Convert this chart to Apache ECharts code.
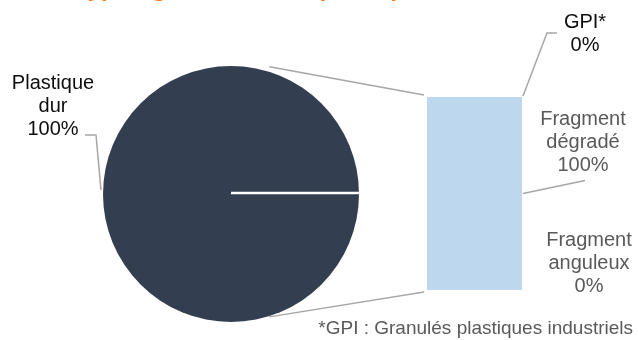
<!DOCTYPE html>
<html>
<head>
<meta charset="utf-8">
<script src="https://cdn.jsdelivr.net/npm/echarts@6/dist/echarts.min.js"></script>
<style>
  html, body { margin: 0; padding: 0; background: #fff; }
  #chart { width: 638px; height: 340px; }
</style>
</head>
<body>
<div id="chart"></div>
<script>
// pie: plastic type, bar: breakdown of the hard plastic slice
const pieNames = ['Plastique dur']
const pieValues = [100]
const barNames = ['Fragment anguleux', 'Fragment dégradé', 'GPI*'] // bottom -> top
const barValues = [0, 100, 0]
const barColors = ['#9DC3E6', '#BDD7EE', '#DEEBF7']

const titleText = 'Typologie des débris plastiques'
const footnote = '*GPI : Granulés plastiques industriels'

const FONT = '"Liberation Sans", Arial, sans-serif'
const PIE_CX = 231, PIE_CY = 194, PIE_R = 128
const BAR_LEFT = 427, BAR_TOP = 97, BAR_W = 95, BAR_H = 193
const BAR_RIGHT = BAR_LEFT + BAR_W
const LINE_GREY = '#A6A6A6'

// label centres of the bar labels
const barLabelPos = {
  'Fragment anguleux': [BAR_RIGHT + 67, BAR_TOP + BAR_H - 27],
  'Fragment dégradé': [BAR_RIGHT + 61, BAR_TOP + 45],
  'GPI*': [BAR_RIGHT + 63, BAR_TOP - 63],
}
const LABEL_LH = 23

const splitName = (s) => s.replace(' ', '\n')

const chart = echarts.init(document.getElementById('chart'), null, {renderer: 'canvas'})

const barSeries = barNames.map((name, i) => ({
  name: name,
  type: 'bar',
  stack: 'plastique',
  barWidth: '100%',
  cursor: 'default',
  itemStyle: {color: barColors[i]},
  data: [barValues[i]],
  label: {
    show: true,
    formatter: (p) => splitName(p.seriesName) + '\n' + p.value + '%',
    fontFamily: FONT,
    fontSize: 20,
    lineHeight: LABEL_LH,
    align: 'center',
    color: name === 'GPI*' ? '#0D0D0D' : '#595959'
  },
  labelLine: {show: false},
  labelLayout: () => ({
    x: barLabelPos[name][0], y: barLabelPos[name][1], align: 'center', verticalAlign: 'middle'
  })
}))

const gpi = barLabelPos['GPI*']
const deg = barLabelPos['Fragment dégradé']

const option = {
  animation: false,
  title: {
    text: titleText,
    left: 76,
    top: -23,
    padding: 0,
    textStyle: {
      fontFamily: FONT,
      fontSize: 24,
      fontStyle: 'italic',
      fontWeight: 'bold',
      color: '#F47B20'
    }
  },
  grid: {left: BAR_LEFT, top: BAR_TOP, width: BAR_W, height: BAR_H},
  xAxis: {type: 'category', data: ['Plastique dur'], show: false},
  yAxis: {type: 'value', min: 0, max: 100, show: false},
  series: [
    {
      name: 'Type',
      type: 'pie',
      center: [PIE_CX, PIE_CY],
      radius: PIE_R,
      startAngle: 0,
      cursor: 'default',
      emphasis: {disabled: true},
      itemStyle: {color: '#333F50'},
      data: pieNames.map((n, i) => ({name: n, value: pieValues[i]})),
      label: {
        show: true,
        position: 'outside',
        overflow: 'none',
        formatter: (p) => splitName(p.name) + '\n' + p.value + '%',
        fontFamily: FONT,
        fontSize: 20,
        lineHeight: LABEL_LH,
        align: 'center',
        color: '#0D0D0D'
      },
      labelLine: {show: true, smooth: false, lineStyle: {color: LINE_GREY, width: 1.5}},
      labelLayout: (params) => {
        const r = params.rect
        return {
          x: 53, y: 106, align: 'center', verticalAlign: 'middle', width: 120,
          labelLinePoints: [[r.x - 2, r.y + r.height / 2 - 4], [96, 135], [85, 135]]
        }
      }
    },
    ...barSeries
  ],
  graphic: [
    // white separator inside the pie
    {
      type: 'line', z: 100, silent: true,
      shape: {x1: PIE_CX, y1: PIE_CY - 1, x2: PIE_CX + PIE_R, y2: PIE_CY - 1},
      style: {stroke: '#FFFFFF', lineWidth: 2.5}
    },
    // connectors pie -> bar
    {
      type: 'line', z: 100, silent: true,
      shape: {x1: PIE_CX + 0.3 * PIE_R, y1: PIE_CY - 0.995 * PIE_R, x2: BAR_LEFT - 3, y2: BAR_TOP - 2},
      style: {stroke: LINE_GREY, lineWidth: 1.5}
    },
    {
      type: 'line', z: 100, silent: true,
      shape: {x1: PIE_CX + 0.3 * PIE_R, y1: PIE_CY + 0.96 * PIE_R, x2: BAR_LEFT - 3, y2: BAR_TOP + BAR_H + 2},
      style: {stroke: LINE_GREY, lineWidth: 1.5}
    },
    // leader lines of the bar labels
    {
      type: 'polyline', z: 100, silent: true,
      shape: {points: [[BAR_RIGHT + 1, BAR_TOP - 1], [gpi[0] - 38, gpi[1] - 1], [gpi[0] - 28, gpi[1] - 1]]},
      style: {stroke: LINE_GREY, lineWidth: 1.5, fill: null}
    },
    {
      type: 'polyline', z: 100, silent: true,
      shape: {points: [[BAR_RIGHT + 1, BAR_TOP + BAR_H / 2], [deg[0] + 2, deg[1] + 1.5 * LABEL_LH + 4]]},
      style: {stroke: LINE_GREY, lineWidth: 1.5, fill: null}
    },
    {
      type: 'text', right: 5, top: 319, silent: true,
      style: {text: footnote, font: '19px ' + FONT, fill: '#595959'}
    }
  ]
}

chart.setOption(option)
</script>
</body>
</html>
